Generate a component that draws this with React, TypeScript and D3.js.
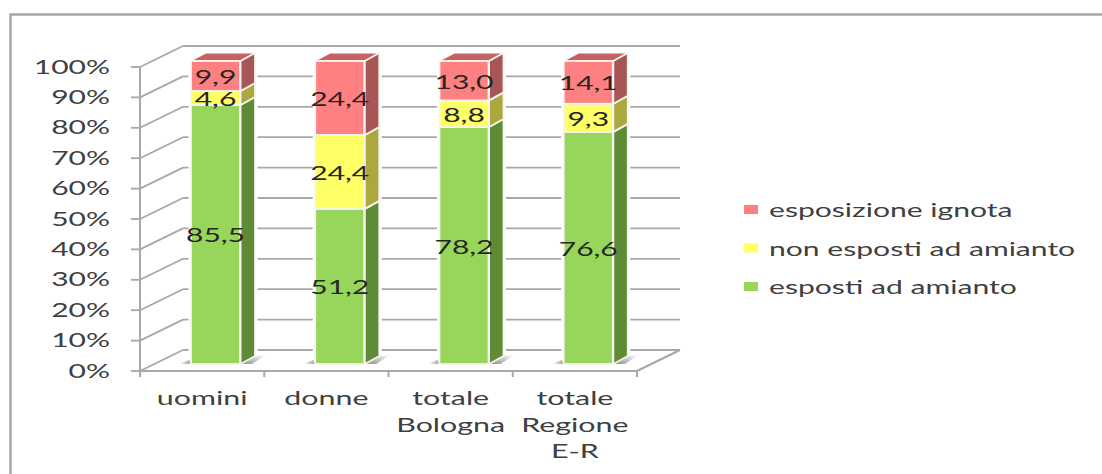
import React from "react";
import * as d3 from "d3";

// Share of cases by asbestos exposure, per group (percent)
const categories = ["uomini", "donne", "totale Bologna", "totale Regione E-R"];
const categoryLines = [["uomini"], ["donne"], ["totale", "Bologna"], ["totale", "Regione", "E-R"]];
const esposti = [85.5, 51.2, 78.2, 76.6];
const nonEsposti = [4.6, 24.4, 8.8, 9.3];
const ignota = [9.9, 24.4, 13.0, 14.1];
const percentTicks = [0, 10, 20, 30, 40, 50, 60, 70, 80, 90, 100];

const seriesKeys = ["esposti", "nonEsposti", "ignota"];
const seriesNames: Record<string, string> = {
  esposti: "esposti ad amianto",
  nonEsposti: "non esposti ad amianto",
  ignota: "esposizione ignota",
};
const frontColor: Record<string, string> = { esposti: "#97d65a", nonEsposti: "#ffff66", ignota: "#ff8080" };
const sideColor: Record<string, string> = { esposti: "#5f8a36", nonEsposti: "#aaa83e", ignota: "#a85555" };
const topColor = "#c46262";
const gridColor = "#a8a8a8";
const frameColor = "#a6a6a6";
const inkColor = "#404040";
const fontFamily = "Lato";

const W = 1102;
const H = 474;
const wallDx = 43;
const wallDy = -21;
const barDx = 15;
const barDy = -8;
const barInset = 51;
const barWidth = 49;

const rows = categories.map((c, i) => ({
  category: c,
  esposti: esposti[i],
  nonEsposti: nonEsposti[i],
  ignota: ignota[i],
}));
const stacked = d3.stack<any>().keys(seriesKeys)(rows);

const xBand = d3.scaleBand<string>().domain(categories).range([140, 637]);
const yAxis = d3.scaleLinear().domain([0, 100]).range([371, 67]);
const yBar = d3.scaleLinear().domain([0, 100]).range([364, 61]);

const pts = (p: [number, number][]) => p.map((a) => a.join(",")).join(" ");

// Text widened horizontally, anchored around x
function Wide(props: { x: number; y: number; sx: number; size: number; anchor?: string; fill?: string; children: string }) {
  const { x, y, sx, size, anchor = "middle", fill = inkColor, children } = props;
  return (
    <text
      transform={`translate(${x},${y}) scale(${sx},1)`}
      textAnchor={anchor}
      fontFamily={fontFamily}
      fontSize={size}
      fill={fill}
    >
      {children}
    </text>
  );
}

export default function App() {
  const x0 = xBand.range()[0];
  const x1 = xBand.range()[1];
  const legendRows = [...seriesKeys].reverse();
  const legendY = d3.scalePoint<string>().domain(legendRows).range([210, 287]);
  return (
    <svg width={W} height={H} style={{ position: "absolute", left: 0, top: 0, display: "block" }}>
      <defs>
        <linearGradient id="floorShade" x1="0" x2="1" y1="1" y2="0">
          <stop offset="0" stopColor="#8c8c8c" />
          <stop offset="1" stopColor="#ffffff" />
        </linearGradient>
        <linearGradient id="floorShadeLeft" x1="0" x2="1" y1="0" y2="0">
          <stop offset="0" stopColor="#ffffff" />
          <stop offset="1" stopColor="#a0a0a0" />
        </linearGradient>
      </defs>
      <rect width={W} height={H} fill="#fff" />
      <path d={`M10.5,${H} V14.5 H${W}`} fill="none" stroke={frameColor} strokeWidth={2.5} />

      {/* Back wall gridlines, side wall diagonals and left ticks */}
      {percentTicks.map((t) => (
        <g key={t} stroke={gridColor} strokeWidth={1.8} fill="none">
          <line x1={x0 - 9} x2={x0} y1={yAxis(t)} y2={yAxis(t)} />
          <line x1={x0} x2={x0 + wallDx} y1={yAxis(t)} y2={yAxis(t) + wallDy} />
          <line x1={x0 + wallDx} x2={x1 + wallDx} y1={yAxis(t) + wallDy} y2={yAxis(t) + wallDy} />
        </g>
      ))}
      <g stroke={gridColor} strokeWidth={2} fill="none">
        <line x1={x0} x2={x0} y1={yAxis(100)} y2={yAxis(0) + 6} />
        <line x1={x0} x2={x1} y1={yAxis(0)} y2={yAxis(0)} />
        <line x1={x1} x2={x1 + wallDx} y1={yAxis(0)} y2={yAxis(0) + wallDy} />
        {categories.map((c) => (
          <line key={c} x1={(xBand(c) as number) + xBand.bandwidth()} x2={(xBand(c) as number) + xBand.bandwidth()} y1={yAxis(0)} y2={yAxis(0) + 6} />
        ))}
      </g>

      {/* Bars: halo, floor shadow, then stacked faces */}
      {categories.map((c, i) => {
        const left = (xBand(c) as number) + barInset;
        const right = left + barWidth;
        const base = yBar(0);
        const top = yBar(100);
        return (
          <g key={c}>
            <polygon
              points={pts([[left, base], [left, top], [left + barDx, top + barDy], [right + barDx, top + barDy], [right + barDx, base + barDy], [right, base]])}
              fill="#fff"
              stroke="#fff"
              strokeWidth={5}
            />
            <polygon points={pts([[left - 12, base], [left - 2, base - 4], [left, base]])} fill="url(#floorShadeLeft)" />
            <polygon points={pts([[right, base], [right + barDx, base + barDy], [right + barDx + 11, base + barDy - 1], [right + 12, base]])} fill="url(#floorShade)" />
            <polygon
              points={pts([[left, top], [left + barDx, top + barDy], [right + barDx, top + barDy], [right, top]])}
              fill={topColor}
              stroke="#fff"
              strokeWidth={1}
            />
            {stacked.map((s) => {
              const [lo, hi] = s[i];
              const yLo = yBar(lo);
              const yHi = yBar(hi);
              return (
                <g key={s.key} stroke="#f4f4f0" strokeWidth={1.8}>
                  <rect x={left} y={yHi} width={barWidth} height={yLo - yHi} fill={frontColor[s.key]} />
                  <polygon
                    points={pts([[right + 0.6, yLo], [right + 0.6, yHi], [right + barDx, yHi + barDy], [right + barDx, yLo + barDy]])}
                    fill={sideColor[s.key]}
                  />
                </g>
              );
            })}
            {stacked.map((s) => {
              const [lo, hi] = s[i];
              const value = hi - lo;
              return (
                <Wide key={s.key} x={left + barWidth / 2} y={(yBar(lo) + yBar(hi)) / 2 + 8} sx={1.58} size={19} fill="#262626">
                  {d3.format(".1f")(value).replace(".", ",")}
                </Wide>
              );
            })}
          </g>
        );
      })}

      {/* Percent axis labels */}
      {percentTicks.map((t) => (
        <Wide key={t} x={110} y={yAxis(t) + 6.5} sx={1.58} size={19} anchor="end">
          {`${t}%`}
        </Wide>
      ))}

      {/* Category labels */}
      {categories.map((c, i) =>
        categoryLines[i].map((line, j) => (
          <Wide key={line} x={(xBand(c) as number) + xBand.bandwidth() / 2} y={405 + j * 26.5} sx={1.6} size={19}>
            {line}
          </Wide>
        ))
      )}

      {/* Legend */}
      {legendRows.map((k) => (
        <g key={k}>
          <rect x={744} y={(legendY(k) as number) - 5} width={14} height={9} fill={frontColor[k]} />
          <Wide x={769} y={(legendY(k) as number) + 7} sx={1.585} size={19} anchor="start">
            {seriesNames[k]}
          </Wide>
        </g>
      ))}
    </svg>
  );
}
